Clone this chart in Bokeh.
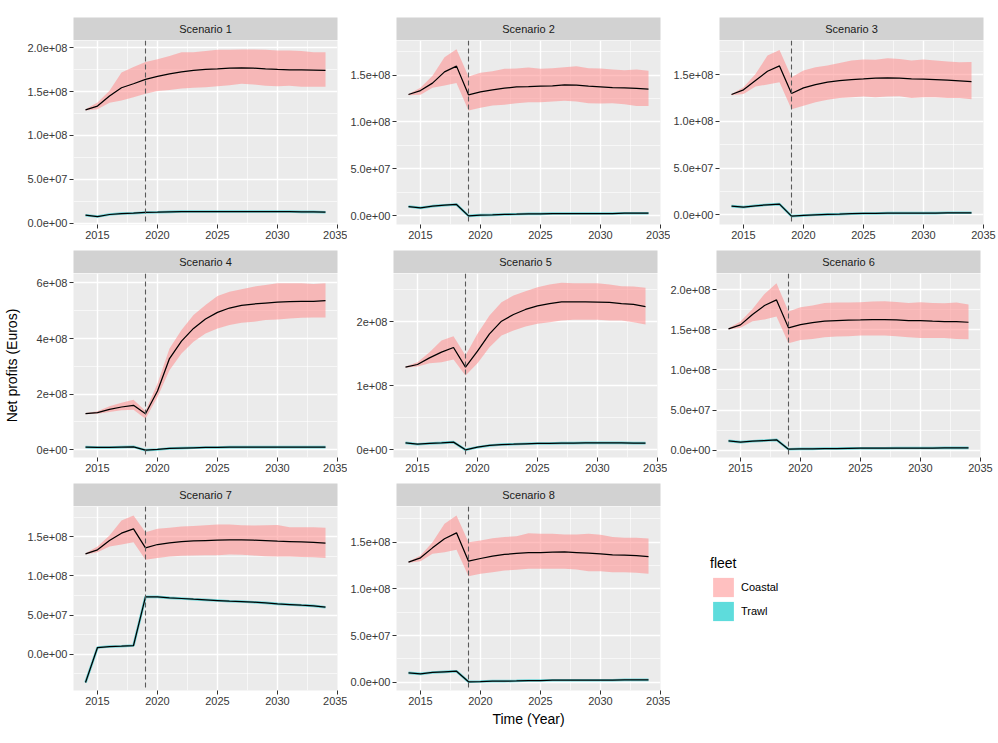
from bokeh.plotting import figure
from bokeh.layouts import row, column
from bokeh.models import FixedTicker, Range1d, Span, Legend, LegendItem
from bokeh.core.properties import value
from bokeh.embed import file_html
from bokeh.resources import INLINE

FONT = "Liberation Sans"
M = 1e6  # series below are stored in millions of euros

years = list(range(2014, 2035))
scenario_names = ["Scenario 1", "Scenario 2", "Scenario 3", "Scenario 4",
                  "Scenario 5", "Scenario 6", "Scenario 7", "Scenario 8"]
fleet_names = ["Coastal", "Trawl"]
policy_year = 2019

# ---- Scenario 1 ----
s1_coastal_mean = [129.3, 133.5, 145.0, 154.4, 159.0, 163.9, 167.3, 170.3, 172.6, 174.1, 175.3,
                   176.0, 176.8, 177.2, 176.8, 176.0, 175.3, 174.9, 174.9, 174.5, 174.1]
s1_coastal_lo = [128.5, 130.0, 137.3, 140.0, 143.7, 147.5, 150.6, 152.0, 153.6, 154.4, 155.0,
                 156.0, 157.4, 159.0, 158.2, 156.7, 156.0, 156.7, 155.5, 155.5, 155.5]
s1_coastal_hi = [130.0, 137.6, 151.0, 171.9, 178.0, 183.7, 187.0, 190.5, 195.0, 195.0, 196.2,
                 197.7, 197.7, 198.0, 198.0, 197.7, 197.0, 197.0, 196.2, 195.0, 195.0]
s1_trawl = [9.1, 7.6, 9.9, 11.0, 11.4, 12.2, 12.5, 12.9, 13.3, 13.3, 13.3,
            13.3, 13.3, 13.3, 13.3, 13.3, 13.3, 13.3, 12.9, 12.9, 12.5]

# ---- Scenario 2 ----
s2_coastal_mean = [129.4, 133.6, 141.5, 153.6, 159.7, 129.0, 132.2, 134.4, 136.1, 137.6, 137.9,
                   138.3, 138.6, 139.7, 139.3, 138.3, 137.6, 136.8, 136.5, 135.8, 135.1]
s2_coastal_lo = [128.7, 129.0, 136.5, 139.0, 141.8, 112.3, 115.1, 117.6, 118.3, 120.1, 121.2,
                 121.2, 121.9, 122.6, 121.9, 120.1, 119.7, 120.1, 119.0, 117.2, 117.2]
s2_coastal_hi = [130.0, 136.5, 149.3, 169.3, 177.8, 148.6, 152.5, 154.3, 156.8, 157.2, 158.2,
                 156.8, 157.5, 158.6, 159.7, 157.5, 157.2, 156.1, 155.4, 156.1, 154.7]
s2_trawl = [9.6, 8.2, 10.0, 11.0, 11.8, -0.4, 0.4, 0.7, 1.1, 1.4, 1.8,
            1.8, 2.1, 2.1, 2.1, 2.1, 2.1, 2.1, 2.5, 2.5, 2.5]

# ---- Scenario 3 ----
s3_coastal_mean = [128.6, 133.6, 143.6, 153.5, 159.2, 129.7, 135.7, 139.3, 141.8, 143.6, 144.6,
                   145.3, 146.1, 146.4, 146.1, 145.3, 145.0, 144.6, 143.9, 143.2, 142.5]
s3_coastal_lo = [127.9, 129.3, 137.2, 139.3, 141.8, 112.9, 116.5, 120.4, 122.9, 125.0, 125.8,
                 126.5, 125.8, 126.5, 126.8, 125.0, 125.8, 125.8, 125.0, 125.0, 123.6]
s3_coastal_hi = [129.3, 136.4, 150.7, 170.3, 176.3, 147.1, 154.3, 157.8, 159.6, 162.4, 164.9,
                 166.0, 165.7, 167.4, 166.7, 164.9, 166.0, 164.9, 163.9, 163.2, 163.5]
s3_trawl = [9.3, 8.2, 9.6, 10.7, 11.4, -1.4, -0.7, 0.0, 0.4, 0.7, 1.1,
            1.4, 1.4, 1.8, 1.8, 1.8, 1.8, 1.8, 2.1, 2.1, 2.1]

# ---- Scenario 4 ----
s4_coastal_mean = [129.9, 133.5, 145.5, 153.9, 159.9, 129.9, 211.6, 328.2, 390.8, 436.5, 470.1,
                   494.2, 509.8, 519.4, 524.2, 527.8, 531.4, 532.6, 533.9, 533.9, 536.3]
s4_coastal_lo = [127.5, 129.9, 135.9, 141.9, 144.3, 111.8, 190.0, 286.2, 346.3, 388.4, 418.4,
                 436.5, 448.5, 456.9, 460.5, 466.5, 468.9, 472.5, 474.9, 476.1, 476.1]
s4_coastal_hi = [132.3, 138.3, 156.3, 169.5, 180.4, 139.5, 238.0, 364.3, 430.4, 484.6, 520.6,
                 553.1, 568.7, 577.1, 586.7, 592.8, 598.8, 598.8, 598.8, 596.4, 598.8]
s4_trawl = [9.6, 8.4, 8.4, 9.6, 10.8, -1.2, 1.2, 4.8, 6.0, 7.2, 8.4,
            8.4, 9.6, 9.6, 9.6, 9.6, 9.6, 9.6, 9.6, 9.6, 9.6]

# ---- Scenario 5 ----
s5_coastal_mean = [128.6, 132.8, 143.2, 152.1, 159.4, 128.6, 153.6, 180.7, 200.5, 210.9, 218.8,
                   224.5, 228.1, 230.7, 230.7, 230.7, 230.2, 229.7, 228.1, 226.6, 223.4]
s5_coastal_lo = [127.6, 129.7, 134.9, 136.5, 140.6, 115.6, 134.9, 159.9, 178.1, 185.9, 192.2,
                 196.4, 199.0, 201.6, 202.6, 202.6, 202.6, 201.6, 201.6, 199.0, 195.3]
s5_coastal_hi = [129.7, 136.5, 152.1, 170.3, 177.1, 146.9, 180.7, 209.4, 230.2, 240.6, 247.4,
                 253.6, 257.8, 260.4, 259.9, 259.9, 259.9, 257.8, 255.2, 254.7, 252.6]
s5_trawl = [10.4, 8.3, 9.4, 10.4, 11.5, -0.5, 3.6, 6.3, 7.8, 8.3, 8.9,
            9.4, 9.4, 9.9, 9.9, 10.4, 10.4, 10.4, 10.4, 9.9, 9.9]

# ---- Scenario 6 ----
s6_coastal_mean = [151.0, 156.0, 168.9, 180.1, 187.1, 152.3, 156.4, 158.9, 160.6, 161.4, 161.8,
                   162.2, 162.7, 162.7, 162.2, 161.4, 161.4, 160.6, 160.2, 160.2, 159.3]
s6_coastal_lo = [150.2, 152.3, 160.6, 162.7, 166.4, 133.2, 137.3, 138.6, 140.7, 141.5, 141.9,
                 142.7, 142.7, 142.7, 141.9, 140.7, 139.8, 139.8, 139.8, 138.6, 138.2]
s6_coastal_hi = [151.8, 160.2, 175.9, 194.6, 207.9, 172.6, 178.0, 180.1, 183.4, 183.8, 183.8,
                 184.2, 185.1, 185.5, 184.6, 183.4, 184.2, 183.4, 183.0, 183.8, 181.3]
s6_trawl = [11.6, 10.0, 11.2, 12.0, 12.9, 1.2, 1.7, 1.7, 2.1, 2.1, 2.3,
            2.5, 2.5, 2.5, 2.7, 2.7, 2.7, 2.7, 2.9, 2.9, 2.9]

# ---- Scenario 7 ----
s7_coastal_mean = [128.2, 133.4, 145.3, 154.7, 160.2, 135.9, 140.2, 142.3, 144.0, 144.9, 145.3,
                   145.7, 146.1, 146.1, 145.7, 145.3, 144.4, 144.0, 143.6, 142.8, 142.0]
s7_coastal_lo = [127.4, 130.4, 137.6, 140.2, 143.2, 120.6, 123.1, 124.8, 125.7, 126.1, 126.5,
                 126.5, 127.4, 127.0, 126.1, 125.3, 124.8, 124.8, 124.4, 124.0, 123.1]
s7_coastal_hi = [129.0, 137.6, 151.7, 170.9, 177.2, 155.9, 160.2, 161.5, 163.2, 164.0, 164.9,
                 165.7, 165.7, 164.9, 164.4, 164.9, 165.3, 162.3, 162.3, 162.3, 161.5]
s7_trawl = [-36.2, 8.5, 9.8, 10.2, 11.1, 73.3, 73.3, 72.0, 71.2, 70.3, 69.5,
            68.6, 67.7, 67.3, 66.5, 65.6, 64.3, 63.5, 62.6, 61.8, 60.1]

# ---- Scenario 8 ----
s8_coastal_mean = [128.6, 133.2, 143.9, 153.6, 160.0, 129.6, 132.5, 135.0, 136.8, 137.9, 138.9,
                   138.9, 139.3, 139.6, 138.9, 138.2, 137.5, 136.4, 136.1, 135.7, 134.6]
s8_coastal_lo = [127.9, 129.6, 137.5, 139.3, 141.8, 113.6, 116.1, 117.9, 119.6, 120.4, 121.4,
                 121.4, 121.4, 121.4, 120.7, 118.9, 118.9, 117.9, 117.9, 117.1, 116.1]
s8_coastal_hi = [129.3, 135.7, 150.0, 169.6, 178.6, 150.0, 151.8, 154.3, 155.4, 156.4, 159.6,
                 158.9, 158.9, 158.2, 158.2, 158.9, 157.9, 155.4, 154.6, 154.6, 153.9]
s8_trawl = [10.0, 8.9, 10.4, 11.1, 11.8, 0.4, 0.7, 1.1, 1.1, 1.4, 1.8,
            1.8, 2.1, 2.1, 2.1, 2.1, 2.1, 2.1, 2.5, 2.5, 2.5]

coastal_mean = [s1_coastal_mean, s2_coastal_mean, s3_coastal_mean, s4_coastal_mean,
                s5_coastal_mean, s6_coastal_mean, s7_coastal_mean, s8_coastal_mean]
coastal_lo = [s1_coastal_lo, s2_coastal_lo, s3_coastal_lo, s4_coastal_lo,
              s5_coastal_lo, s6_coastal_lo, s7_coastal_lo, s8_coastal_lo]
coastal_hi = [s1_coastal_hi, s2_coastal_hi, s3_coastal_hi, s4_coastal_hi,
              s5_coastal_hi, s6_coastal_hi, s7_coastal_hi, s8_coastal_hi]
trawl = [s1_trawl, s2_trawl, s3_trawl, s4_trawl, s5_trawl, s6_trawl, s7_trawl, s8_trawl]

# y limits per facet (millions)
y_limits = [(-1.5, 208.3), (-9.6, 187.1), (-10.4, 186.4), (-27.7, 634.0),
            (-12.5, 275.0), (-9.1, 220.0), (-46.4, 188.8), (-8.9, 188.2)]

# axis ticks and labels
x_ticks = [2015, 2020, 2025, 2030, 2035]
x_minor_ticks = [2012.5, 2017.5, 2022.5, 2027.5, 2032.5]

y_ticks_a = [0, 50_000_000, 100_000_000, 150_000_000, 200_000_000]
y_labels_a = ["0.0e+00", "5.0e+07", "1.0e+08", "1.5e+08", "2.0e+08"]
y_minor_a = [-25_000_000, 25_000_000, 75_000_000, 125_000_000, 175_000_000]

y_ticks_s4 = [0, 200_000_000, 400_000_000, 600_000_000]
y_labels_s4 = ["0e+00", "2e+08", "4e+08", "6e+08"]
y_minor_s4 = [-100_000_000, 100_000_000, 300_000_000, 500_000_000]

y_ticks_s5 = [0, 100_000_000, 200_000_000]
y_labels_s5 = ["0e+00", "1e+08", "2e+08"]
y_minor_s5 = [-50_000_000, 50_000_000, 150_000_000, 250_000_000]

y_axis_spec = [(y_ticks_a, y_labels_a, y_minor_a)] * 3 + \
              [(y_ticks_s4, y_labels_s4, y_minor_s4), (y_ticks_s5, y_labels_s5, y_minor_s5)] + \
              [(y_ticks_a, y_labels_a, y_minor_a)] * 3

# styling
PANEL_BG = "#EBEBEB"
STRIP_BG = "#D2D2D2"
COASTAL_FILL = "#FF8C8C"
COASTAL_ALPHA = 0.55
TRAWL_FILL = "#00C8C8"
TRAWL_ALPHA = 0.63
TICK_TEXT = "#383838"
FRAME_W = 264
FRAME_H = 184
STRIP_H = 23

col_left = [73, 46, 47]
col_right = [10, 10, 20]
row_top = [17, 0, 0]
row_bottom = [26, 26, 53]


def style_axis(ax):
    ax.axis_line_color = None
    ax.major_tick_line_color = "#333333"
    ax.major_tick_line_width = 1
    ax.major_tick_out = 4
    ax.major_tick_in = 0
    ax.minor_tick_line_color = None
    ax.major_label_text_font = FONT
    ax.major_label_text_font_size = "11px"
    ax.major_label_text_color = TICK_TEXT
    ax.major_label_standoff = 2
    ax.axis_label_text_font = FONT
    ax.axis_label_text_font_size = "14px"
    ax.axis_label_text_font_style = "normal"
    ax.axis_label_text_color = "black"


def strip(name, left, right, top):
    s = figure(frame_width=FRAME_W, frame_height=STRIP_H,
               x_range=Range1d(0, 1), y_range=Range1d(0, 1),
               x_axis_location=None, y_axis_location=None,
               min_border_left=left, min_border_right=right,
               min_border_top=top, min_border_bottom=0,
               background_fill_color=STRIP_BG, border_fill_color="white",
               outline_line_color=None, output_backend="svg",
               toolbar_location=None, tools="")
    s.grid.visible = False
    s.text(x=[0.5], y=[0.5], text=[name], text_align="center", text_baseline="middle",
           text_font=value(FONT), text_font_size="11px", text_color="#1A1A1A")
    return s


def panel(i, left, right, bottom):
    lo_lim, hi_lim = y_limits[i]
    p = figure(frame_width=FRAME_W, frame_height=FRAME_H,
               x_range=Range1d(2013, 2035), y_range=Range1d(lo_lim * M, hi_lim * M),
               min_border_left=left, min_border_right=right,
               min_border_top=0, min_border_bottom=bottom,
               background_fill_color=PANEL_BG, border_fill_color="white",
               outline_line_color=None, output_backend="svg",
               toolbar_location=None, tools="")
    yt_vals, yt_labels, yt_minor = y_axis_spec[i]
    xt = FixedTicker(ticks=x_ticks, minor_ticks=x_minor_ticks)
    yt = FixedTicker(ticks=yt_vals, minor_ticks=yt_minor)
    p.xaxis.ticker = xt
    p.xgrid.ticker = xt
    p.yaxis.ticker = yt
    p.ygrid.ticker = yt
    p.yaxis.major_label_overrides = dict(zip(yt_vals, yt_labels))
    style_axis(p.xaxis[0])
    style_axis(p.yaxis[0])
    p.grid.grid_line_color = "white"
    p.grid.grid_line_width = 1.4
    p.grid.minor_grid_line_color = "white"
    p.grid.minor_grid_line_width = 0.6

    lo = [v * M for v in coastal_lo[i]]
    hi = [v * M for v in coastal_hi[i]]
    mean = [v * M for v in coastal_mean[i]]
    tr = [v * M for v in trawl[i]]
    p.varea(x=years, y1=lo, y2=hi, fill_color=COASTAL_FILL, fill_alpha=COASTAL_ALPHA)
    # the trawl band is very narrow: shown as a soft teal halo under its line
    p.line(years, tr, line_color="#00BFC4", line_alpha=0.55, line_width=2.6)
    p.line(years, mean, line_color="black", line_width=1.25)
    p.line(years, tr, line_color="black", line_width=1.25)
    p.add_layout(Span(location=policy_year, dimension="height", line_color="#5A5A5A",
                      line_dash="5 3", line_width=1.1))
    return p


def legend_cell():
    w = col_left[2] + FRAME_W + col_right[2]
    h = STRIP_H + FRAME_H + row_bottom[2]
    lg = figure(frame_width=w, frame_height=h, x_range=Range1d(0, 1), y_range=Range1d(0, 1),
                x_axis_location=None, y_axis_location=None, min_border=0,
                background_fill_color="white", border_fill_color="white",
                outline_line_color=None, output_backend="svg",
                toolbar_location=None, tools="")
    lg.grid.visible = False
    # hidden proxy renderers that only supply the legend swatches
    r1 = lg.varea(x=years, y1=s1_coastal_lo, y2=s1_coastal_hi,
                  fill_color=COASTAL_FILL, fill_alpha=COASTAL_ALPHA, visible=False)
    r2 = lg.varea(x=years, y1=s1_trawl, y2=s1_trawl,
                  fill_color=TRAWL_FILL, fill_alpha=TRAWL_ALPHA, visible=False)
    legend = Legend(items=[LegendItem(label=fleet_names[0], renderers=[r1]),
                           LegendItem(label=fleet_names[1], renderers=[r2])],
                    location=(40, 120), title="fleet",
                    title_text_font=FONT, title_text_font_size="14px",
                    title_text_font_style="normal", title_text_color="black",
                    title_standoff=4,
                    label_text_font=FONT, label_text_font_size="11px",
                    label_text_color="black", label_standoff=5,
                    glyph_width=26, glyph_height=24, label_height=20,
                    spacing=-2, padding=0, margin=0,
                    border_line_color=None, background_fill_alpha=0)
    lg.add_layout(legend)
    return lg


rows = []
for r in range(3):
    cells = []
    for c in range(3):
        i = r * 3 + c
        if i >= len(scenario_names):
            cells.append(legend_cell())
            continue
        st = strip(scenario_names[i], col_left[c], col_right[c], row_top[r])
        pn = panel(i, col_left[c], col_right[c], row_bottom[r])
        if i == 3:
            pn.yaxis.axis_label = "Net profits (Euros)"
            pn.yaxis.axis_label_standoff = 14
        if i == 7:
            pn.xaxis.axis_label = "Time (Year)"
            pn.xaxis.axis_label_standoff = 3
        cells.append(column(st, pn))
    rows.append(row(*cells))

page = column(*rows)

with open("out.html", "w") as f:
    f.write(file_html(page, INLINE, title="Net profits by scenario"))
